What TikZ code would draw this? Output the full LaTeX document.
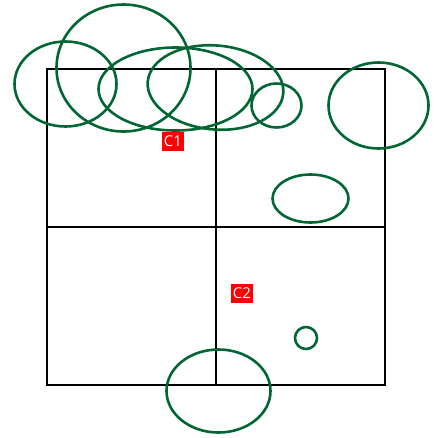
\documentclass[tikz,border=0pt]{standalone}
\usepackage{fontspec}
\setsansfont{Open Sans}
\definecolor{ringgreen}{HTML}{006633}
\definecolor{tagred}{HTML}{FF0000}
\tikzset{
  grid line/.style={line width=2.6pt, black},
  ring/.style={line width=2.6pt, ringgreen},
  tag/.style={fill=tagred, text=white, font=\sffamily\fontsize{15}{18}\selectfont,
    inner sep=0pt, minimum width=22pt, minimum height=19pt}
}
\begin{document}
\begin{tikzpicture}[x=1pt,y=-1pt]
\useasboundingbox (0,0) rectangle (438,437);
\coordinate (NW) at (47,69);
\coordinate (SE) at (385,385);
\coordinate (N) at (216,69);
\coordinate (S) at (216,385);
\coordinate (W) at (47,227);
\coordinate (E) at (385,227);
\draw[grid line] (NW) rectangle (SE);
\draw[grid line] (N) -- (S);
\draw[grid line] (W) -- (E);
% rings
\draw[ring] (65.5,84) ellipse [x radius=51, y radius=42.5];
\draw[ring] (123.5,68) ellipse [x radius=67, y radius=63.5];
\draw[ring] (175.5,89) ellipse [x radius=77, y radius=41.5];
\draw[ring, rotate around={-5:(215.5,87.5)}] (215.5,87.5) ellipse [x radius=68, y radius=42];
\draw[ring] (276.5,105.5) ellipse [x radius=25, y radius=22];
\draw[ring] (378.5,105.5) ellipse [x radius=50, y radius=43];
\draw[ring] (310.5,198.5) ellipse [x radius=38, y radius=24];
\draw[ring] (306,338) circle (11);
\draw[ring] (218.5,391) ellipse [x radius=52, y radius=41.5];
% labels
\node[tag] (c1) at (173,141.5) {C1};
\node[tag] (c2) at (242,293.5) {C2};
\end{tikzpicture}
\end{document}
